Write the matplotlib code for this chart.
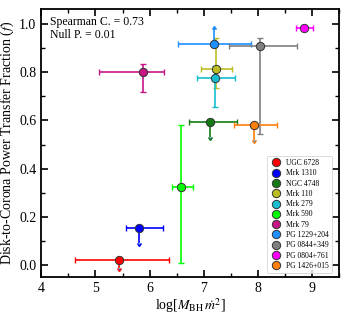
import matplotlib
matplotlib.use("Agg")
import matplotlib.pyplot as plt
from matplotlib.lines import Line2D
from matplotlib.ticker import MultipleLocator

plt.rcParams['font.family'] = ['Liberation Serif', 'DejaVu Serif']
plt.rcParams['mathtext.fontset'] = 'stix'

names = ["UGC 6728", "Mrk 1310", "NGC 4748", "Mrk 110", "Mrk 279", "Mrk 590",
         "Mrk 79", "PG 1229+204", "PG 0844+349", "PG 0804+761", "PG 1426+015"]
colors = ["#ff0000", "#0000ff", "#137a13", "#bcbd22", "#17becf", "#00ff00",
          "#c71585", "#1e90ff", "#7f7f7f", "#ff00ff", "#ff7f0e"]
x = [5.43, 5.81, 7.12, 7.23, 7.21, 6.58, 5.88, 7.18, 8.04, 8.86, 7.92]
y = [0.02, 0.153, 0.593, 0.815, 0.774, 0.324, 0.80, 0.915, 0.91, 0.983, 0.58]
xerr_lo = [0.80, 0.25, 0.40, 0.29, 0.33, 0.16, 0.81, 0.66, 0.58, 0.15, 0.36]
xerr_hi = [0.93, 0.44, 0.49, 0.30, 0.37, 0.22, 0.39, 0.69, 0.68, 0.15, 0.44]
yerr_lo = [0.0, 0.0, 0.0, 0.08, 0.117, 0.317, 0.082, 0.0, 0.365, 0.0, 0.0]
yerr_hi = [0.0, 0.0, 0.0, 0.125, 0.05, 0.256, 0.033, 0.0, 0.03, 0.0, 0.0]
# limit arrows: negative = upper limit (arrow down), positive = lower limit (arrow up)
limit = [-0.03, -0.06, -0.06, 0, 0, 0, 0, 0.063, 0, 0, -0.06]

fig = plt.figure(figsize=(3.5, 3.15), dpi=100)
ax = fig.add_axes([0.118, 0.12, 0.851, 0.85])

for i in range(len(names)):
    c = colors[i]
    ax.errorbar(x[i], y[i], xerr=[[xerr_lo[i]], [xerr_hi[i]]],
                yerr=[[yerr_lo[i]], [yerr_hi[i]]] if (yerr_lo[i] or yerr_hi[i]) else None,
                fmt='none', ecolor=c, elinewidth=1.2, capsize=2.2, capthick=1.0, zorder=2)
    if limit[i] < 0:
        ax.errorbar(x[i], y[i], yerr=[[-limit[i]], [0]], uplims=True, fmt='none',
                    ecolor=c, elinewidth=1.2, capsize=1.4, zorder=2)
    elif limit[i] > 0:
        ax.errorbar(x[i], y[i], yerr=[[0], [limit[i]]], lolims=True, fmt='none',
                    ecolor=c, elinewidth=1.2, capsize=1.4, zorder=2)
    ax.plot(x[i], y[i], 'o', color=c, markersize=6, markeredgecolor='#333333',
            markeredgewidth=0.7, zorder=3)

ax.set_xlim(4, 9.5)
ax.set_ylim(-0.05, 1.06)
ax.xaxis.set_major_locator(MultipleLocator(1))
ax.xaxis.set_minor_locator(MultipleLocator(0.5))
ax.yaxis.set_major_locator(MultipleLocator(0.2))
ax.yaxis.set_minor_locator(MultipleLocator(0.1))
ax.tick_params(which='both', direction='in', top=True, right=True, labelsize=10)
ax.tick_params(which='major', length=5, width=1.2)
ax.tick_params(which='minor', length=3, width=1.0)
ax.set_yticks([0.0, 0.2, 0.4, 0.6, 0.8, 1.0])
ax.set_yticklabels(["0.0", "0.2", "0.4", "0.6", "0.8", "1.0"])
ax.set_xticks([4, 5, 6, 7, 8, 9])
ax.set_xticklabels(["4", "5", "6", "7", "8", "9"])
for s in ax.spines.values():
    s.set_linewidth(1.3)

ax.set_xlabel(r"log[$M_{\rm BH}\,\dot{m}^2$]", fontsize=10, labelpad=1)
ax.set_ylabel(r"Disk-to-Corona Power Transfer Fraction ($f$)", fontsize=10, labelpad=2)

ax.text(0.03, 0.975, "Spearman C. = 0.73\nNull P. = 0.01", transform=ax.transAxes,
        ha='left', va='top', fontsize=8.5, linespacing=1.15)

handles = [Line2D([], [], marker='o', linestyle='none', color=c, markersize=6,
                  markeredgecolor='#333333', markeredgewidth=0.7) for c in colors]
leg = ax.legend(handles, names, loc='lower right', fontsize=5.5, frameon=True,
                handletextpad=0.5, labelspacing=0.3, borderpad=0.45,
                handlelength=1.6, bbox_to_anchor=(0.99, 0.0))
leg.get_frame().set_linewidth(0.6)
leg.get_frame().set_edgecolor('#cccccc')

fig.savefig("out.png", dpi=100)
